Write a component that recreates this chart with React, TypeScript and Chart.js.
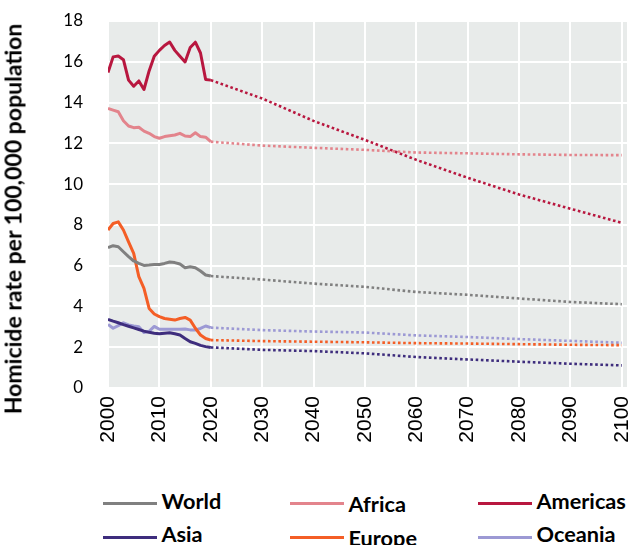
import React, { useEffect, useRef } from "react";
import { Chart, registerables } from "chart.js";

Chart.register(...registerables);

// ---- data ----
const histYears = [
  2000, 2001, 2002, 2003, 2004, 2005, 2006, 2007, 2008, 2009, 2010,
  2011, 2012, 2013, 2014, 2015, 2016, 2017, 2018, 2019, 2020,
];
const worldHist = [6.88, 6.98, 6.93, 6.68, 6.44, 6.23, 6.11, 6.01, 6.03, 6.06, 6.06, 6.11, 6.18, 6.15, 6.08, 5.9, 5.95, 5.9, 5.74, 5.54, 5.49];
const africaHist = [13.71, 13.63, 13.55, 13.11, 12.85, 12.77, 12.79, 12.6, 12.49, 12.33, 12.25, 12.33, 12.37, 12.41, 12.49, 12.36, 12.33, 12.52, 12.33, 12.3, 12.08];
const americasHist = [15.47, 16.24, 16.28, 16.1, 15.1, 14.8, 15.06, 14.64, 15.55, 16.27, 16.56, 16.8, 16.97, 16.56, 16.27, 15.99, 16.7, 16.96, 16.43, 15.13, 15.1];
const asiaHist = [3.37, 3.28, 3.2, 3.11, 3.03, 2.95, 2.87, 2.79, 2.73, 2.69, 2.66, 2.69, 2.71, 2.66, 2.6, 2.43, 2.27, 2.19, 2.09, 2.03, 1.99];
const europeHist = [7.75, 8.07, 8.15, 7.75, 7.17, 6.6, 5.46, 4.89, 3.9, 3.63, 3.5, 3.41, 3.37, 3.33, 3.41, 3.46, 3.33, 2.93, 2.6, 2.43, 2.35];
const oceaniaHist = [3.12, 2.93, 3.06, 3.2, 3.09, 3.04, 3.0, 2.72, 2.78, 3.02, 2.88, 2.88, 2.88, 2.88, 2.88, 2.89, 2.85, 2.85, 2.92, 3.04, 2.96];

const projYears = [2020, 2030, 2040, 2050, 2060, 2070, 2080, 2090, 2100];
const worldProj = [5.49, 5.32, 5.12, 4.96, 4.71, 4.57, 4.39, 4.22, 4.11];
const africaProj = [12.08, 11.89, 11.78, 11.68, 11.55, 11.51, 11.46, 11.43, 11.42];
const americasProj = [15.1, 14.2, 13.1, 12.17, 11.19, 10.31, 9.49, 8.79, 8.1];
const asiaProj = [1.99, 1.87, 1.81, 1.7, 1.52, 1.4, 1.29, 1.19, 1.11];
const europeProj = [2.35, 2.3, 2.27, 2.24, 2.2, 2.18, 2.15, 2.12, 2.1];
const oceaniaProj = [2.96, 2.84, 2.77, 2.72, 2.58, 2.5, 2.4, 2.31, 2.22];

const regionNames = ["World", "Africa", "Americas", "Asia", "Europe", "Oceania"];
const regionColors = ["#808080", "#E3848C", "#B8173F", "#3E2D7D", "#F45E26", "#9C99D4"];
const histSeries = [worldHist, africaHist, americasHist, asiaHist, europeHist, oceaniaHist];
const projSeries = [worldProj, africaProj, americasProj, asiaProj, europeProj, oceaniaProj];

const xTickYears = [2000, 2010, 2020, 2030, 2040, 2050, 2060, 2070, 2080, 2090, 2100];
const yTickValues = [0, 2, 4, 6, 8, 10, 12, 14, 16, 18];
const yAxisTitle = "Homicide rate per 100,000 population";

// ---- layout constants ----
const W = 635;
const H = 470;
const PLOT_LEFT = 108;
const PLOT_BOTTOM = 388;

const bgPlugin = {
  id: "plotBg",
  beforeDraw(chart: any) {
    const { ctx, chartArea } = chart;
    ctx.save();
    ctx.fillStyle = "#E8EBEA";
    ctx.fillRect(chartArea.left, chartArea.top, chartArea.right - chartArea.left, chartArea.bottom - chartArea.top);
    ctx.restore();
  },
};

export default function App() {
  const ref = useRef<HTMLCanvasElement | null>(null);

  useEffect(() => {
    if (!ref.current) return;
    const datasets: any[] = [];
    regionNames.forEach((name, i) => {
      datasets.push({
        label: name,
        data: histYears.map((y, k) => ({ x: y, y: histSeries[i][k] })),
        borderColor: regionColors[i],
        borderWidth: 3,
        pointRadius: 0,
        tension: 0,
        borderJoinStyle: "round",
      });
    });
    regionNames.forEach((name, i) => {
      datasets.push({
        label: name + " projection",
        data: projYears.map((y, k) => ({ x: y, y: projSeries[i][k] })),
        borderColor: regionColors[i],
        borderWidth: 2.6,
        borderDash: [2.6, 2.6],
        borderCapStyle: "butt",
        pointRadius: 0,
        tension: 0,
      });
    });

    const chart = new Chart(ref.current, {
      type: "line",
      data: { datasets },
      options: {
        animation: false,
        responsive: false,
        maintainAspectRatio: false,
        layout: { padding: { top: 21, right: 8, left: 0, bottom: 0 } },
        plugins: { legend: { display: false }, tooltip: { enabled: false } },
        scales: {
          x: {
            type: "linear",
            min: 2000,
            max: 2101,
            afterBuildTicks: (s: any) => {
              s.ticks = xTickYears.map((v) => ({ value: v }));
            },
            afterFit: (s: any) => {
              s.height = H - PLOT_BOTTOM;
              s.paddingLeft = 0;
              s.paddingRight = 0;
            },
            grid: { color: "#FFFFFF", lineWidth: 2, drawTicks: false },
            border: { display: false },
            ticks: {
              minRotation: 90,
              maxRotation: 90,
              autoSkip: false,
              padding: 8,
              color: "#000",
              font: { family: "Liberation Sans", size: 21 },
              callback: (v: any) => String(v),
            },
          },
          y: {
            type: "linear",
            min: 0,
            max: 18,
            afterBuildTicks: (s: any) => {
              s.ticks = yTickValues.map((v) => ({ value: v }));
            },
            afterFit: (s: any) => {
              s.width = PLOT_LEFT;
              s.paddingTop = 0;
              s.paddingBottom = 0;
            },
            grid: { color: "#FFFFFF", lineWidth: 2, drawTicks: false },
            border: { display: false },
            ticks: {
              padding: 25,
              color: "#000",
              font: { family: "Lato", size: 17 },
              callback: (v: any) => String(v),
            },
          },
        },
      },
      plugins: [bgPlugin],
    });
    return () => chart.destroy();
  }, []);

  const legendCols = [103, 290, 478];
  const legendRows = [503, 537];
  const textTop = [490.8, 524.3];
  const colTextShift = [0, 3.5, 0];

  return (
    <div style={{ position: "absolute", left: 0, top: 0, width: W, height: 545, overflow: "hidden", background: "#fff" }}>
      <canvas ref={ref} width={W} height={H} style={{ position: "absolute", left: 0, top: 0, width: W, height: H }} />
      <div
        style={{
          position: "absolute",
          left: 13,
          top: 219,
          transform: "translate(-50%, -50%) rotate(-90deg)",
          whiteSpace: "nowrap",
          fontFamily: "Lato",
          fontWeight: 700,
          fontSize: 23,
          lineHeight: 1,
          color: "#000",
        }}
      >
        {yAxisTitle}
      </div>
      {regionNames.map((name, i) => {
        const col = i % 3;
        const row = Math.floor(i / 3);
        const x = legendCols[col];
        return (
          <React.Fragment key={name}>
            <div
              style={{
                position: "absolute",
                left: x,
                top: legendRows[row] - 1.5,
                width: 54,
                height: 3,
                background: regionColors[i],
              }}
            />
            <div
              style={{
                position: "absolute",
                left: x + 58.5,
                top: textTop[row] + colTextShift[col],
                whiteSpace: "nowrap",
                fontFamily: "Lato",
                fontWeight: 700,
                fontSize: 21.7,
                lineHeight: 1,
                color: "#000",
              }}
            >
              {name}
            </div>
          </React.Fragment>
        );
      })}
    </div>
  );
}
